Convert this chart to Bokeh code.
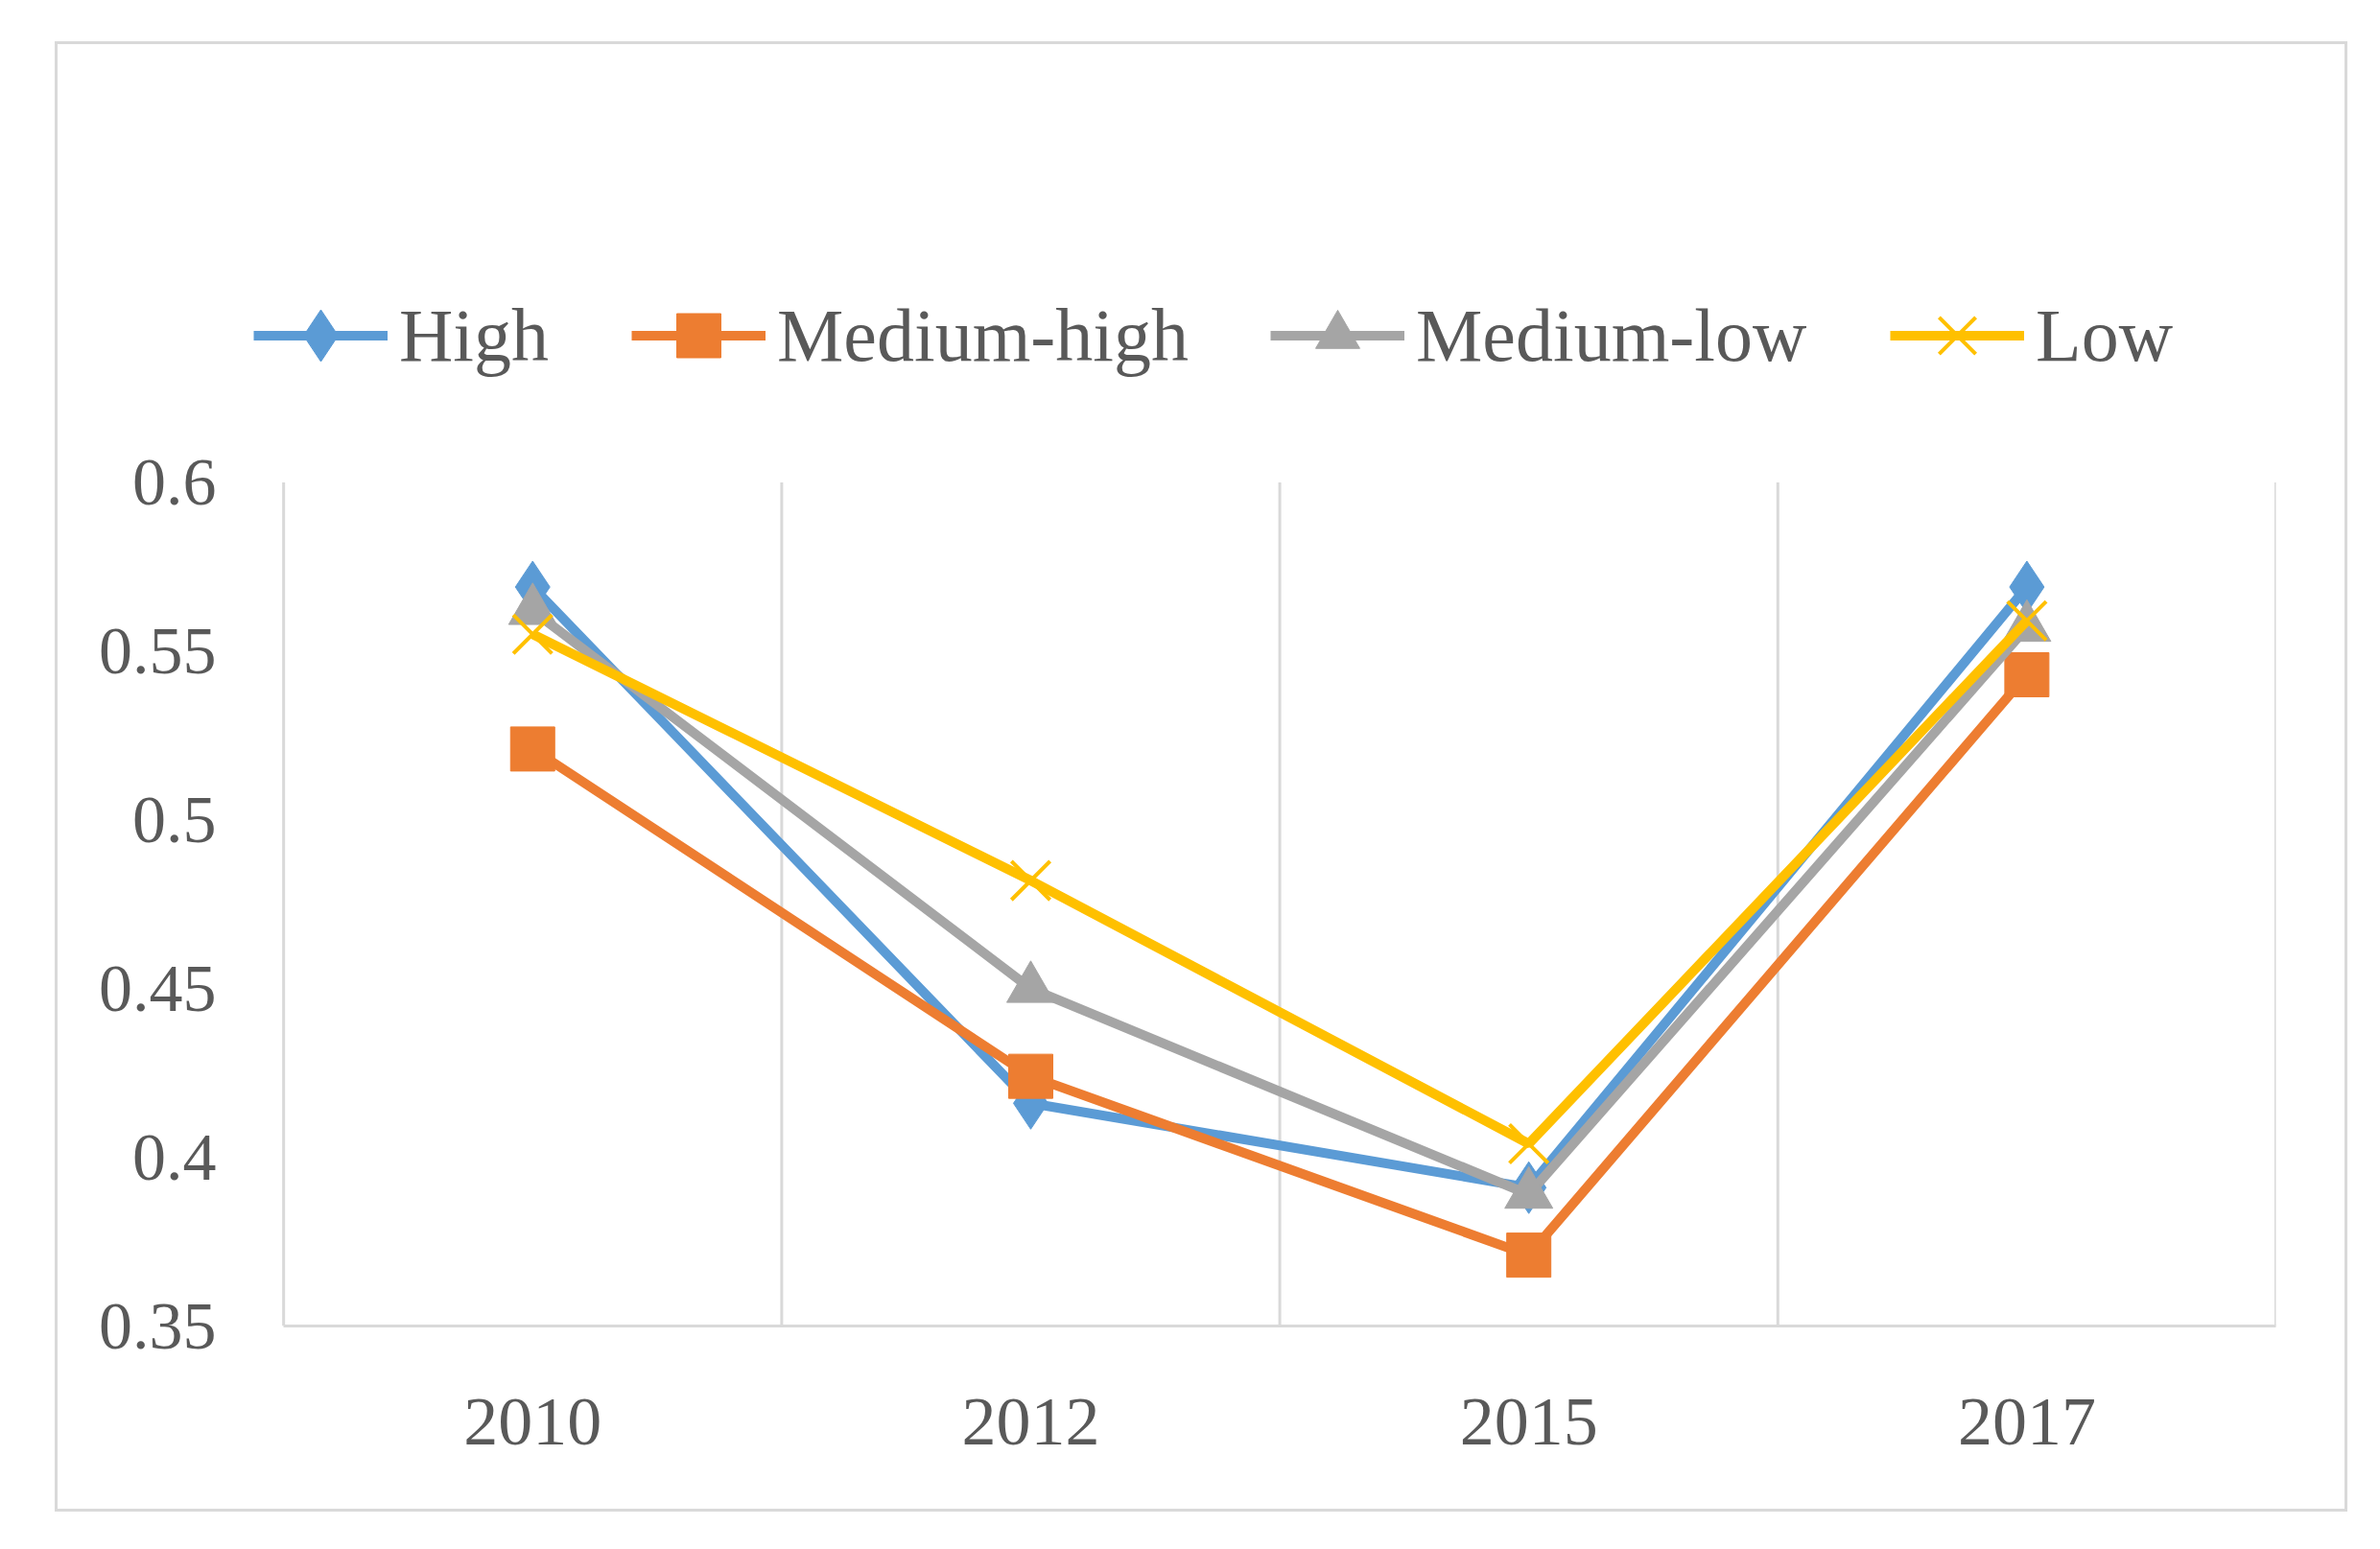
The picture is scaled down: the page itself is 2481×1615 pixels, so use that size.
from bokeh.plotting import figure
from bokeh.models import Range1d, FixedTicker, Legend, LegendItem
from bokeh.embed import file_html
from bokeh.resources import INLINE

years = ["2010", "2012", "2015", "2017"]
high = [0.569, 0.416, 0.391, 0.569]
medium_high = [0.521, 0.424, 0.371, 0.543]
medium_low = [0.562, 0.450, 0.389, 0.557]
low = [0.555, 0.482, 0.404, 0.559]
y_ticks = [0.35, 0.4, 0.45, 0.5, 0.55, 0.6]
y_tick_labels = ["0.35", "0.4", "0.45", "0.5", "0.55", "0.6"]

FONT = "Liberation Serif"
TXT = "#595959"
GRID = "#d9d9d9"

xs = [i + 0.5 for i in range(len(years))]
bounds_x = list(range(len(years) + 1))
y_lo, y_hi = y_ticks[0], y_ticks[-1]
y_top = 0.68   # room above the value area for the legend
x_pad = 0.06   # room left of the first separator for the legend's first item

p = figure(width=2390, height=1533, output_backend="svg", toolbar_location=None,
           x_range=Range1d(-x_pad, len(years)), y_range=Range1d(y_lo, y_top),
           min_border_left=204, min_border_right=78, min_border_top=175, min_border_bottom=197)
p.margin = (43, 0, 0, 57)
p.styles = {"border": "3px solid #d9d9d9"}
p.outline_line_color = None
p.background_fill_color = "white"
p.border_fill_color = "white"

# vertical separators only inside the value area
p.ygrid.visible = False
p.xgrid.visible = False
p.segment(x0=bounds_x, y0=[y_lo] * len(bounds_x), x1=bounds_x, y1=[y_hi] * len(bounds_x),
          line_color=GRID, line_width=3)

# x axis
p.xaxis.ticker = FixedTicker(ticks=xs)
p.xaxis.bounds = (0, len(years))
p.xaxis.major_label_overrides = {x: y for x, y in zip(xs, years)}
p.xaxis.axis_line_color = GRID
p.xaxis.axis_line_width = 3
p.xaxis.major_tick_line_color = None
p.xaxis.minor_tick_line_color = None
p.xaxis.major_label_text_font = FONT
p.xaxis.major_label_text_font_size = "72px"
p.xaxis.major_label_text_color = TXT
p.xaxis.major_label_standoff = 70

# y axis
p.yaxis.ticker = FixedTicker(ticks=y_ticks)
p.yaxis.bounds = (y_lo, y_hi)
p.yaxis.major_label_overrides = {t: l for t, l in zip(y_ticks, y_tick_labels)}
p.yaxis.axis_line_color = None
p.yaxis.major_tick_line_color = None
p.yaxis.minor_tick_line_color = None
p.yaxis.major_label_text_font = FONT
p.yaxis.major_label_text_font_size = "70px"
p.yaxis.major_label_text_color = TXT
p.yaxis.major_label_standoff = 33

series = [
    ("High", high, "#5B9BD5", dict(marker="diamond", size=54), 135, 0),
    ("Medium-high", medium_high, "#ED7D31", dict(marker="square", size=46), 115, 394),
    ("Medium-low", medium_low, "#A5A5A5", dict(marker="triangle", size=50), 115, 1060),
    ("Low", low, "#FFC000", dict(marker="x", size=57), 135, 1706),
]

for name, vals, color, mk, gh, lx in series:
    r1 = p.line(xs, vals, line_color=color, line_width=10)
    if mk["marker"] == "x":
        r2 = p.scatter(xs, vals, line_color=color, line_width=4, **mk)
    else:
        r2 = p.scatter(xs, vals, fill_color=color, line_color=color, line_width=1, **mk)
    lg = Legend(items=[LegendItem(label=name, renderers=[r1, r2])],
                location=(lx, 975 + (115 - gh) / 2),
                orientation="horizontal",
                glyph_width=140, glyph_height=gh, label_height=gh,
                label_standoff=12, padding=0, margin=0, spacing=0,
                border_line_color=None, background_fill_alpha=0,
                label_text_font=FONT, label_text_font_size="78px",
                label_text_color=TXT, label_text_baseline="middle")
    p.add_layout(lg, "center")

open("out.html", "w").write(file_html(p, INLINE))
